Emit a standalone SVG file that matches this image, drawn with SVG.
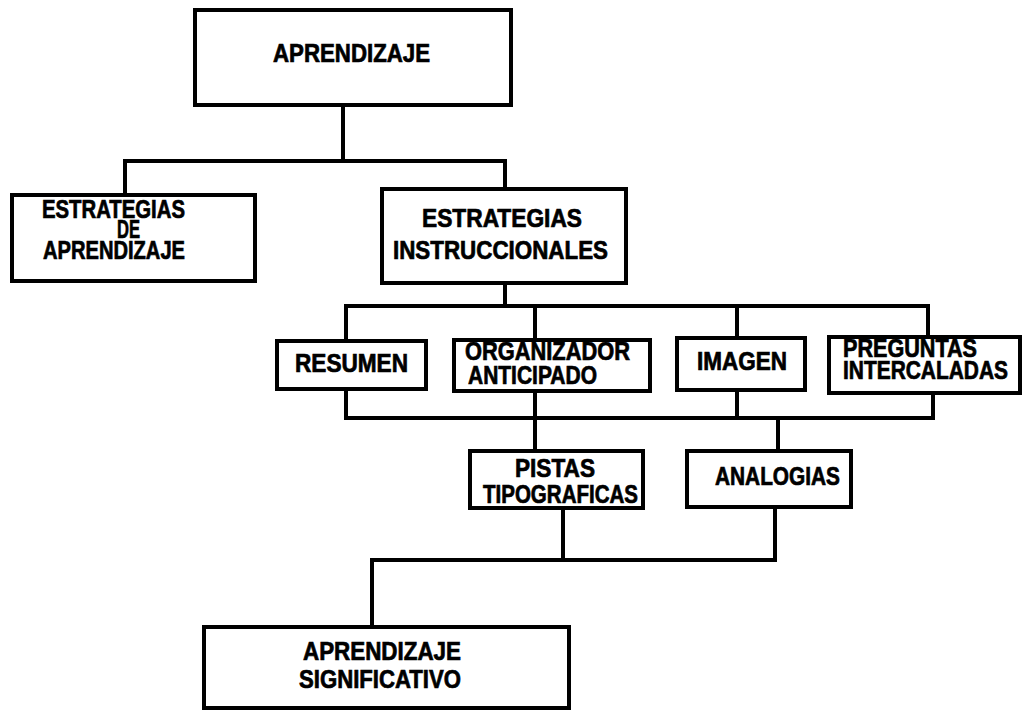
<svg xmlns="http://www.w3.org/2000/svg" width="1030" height="713" viewBox="0 0 1030 713">
<style>
.box{fill:#fff;stroke:#000;stroke-width:4}
.c{fill:none;stroke:#000;stroke-width:4;stroke-linejoin:miter;stroke-linecap:square}
text{font-family:"Liberation Sans Narrow","Liberation Sans",Arial,sans-serif;font-weight:bold;fill:#000;stroke:#000;stroke-width:0.7;font-size:25px}
</style>
<rect width="1030" height="713" fill="#fff"/>
<g id="connectors">
<path class="c" d="M343 107V161M125 193V161H505V187"/>
<path class="c" d="M505 285V306M346 339V306H928V335M535 306V338M737 306V336"/>
<path class="c" d="M346 391V418H933V395M535 393V418M737 392V418"/>
<path class="c" d="M535 418V449M778 418V449"/>
<path class="c" d="M563 510V560M372 625V560H775V509"/>
</g>
<g id="aprendizaje">
<rect class="box" x="195" y="10" width="316" height="95"/>
<text x="273" y="62" font-size="27" textLength="157" lengthAdjust="spacingAndGlyphs">APRENDIZAJE</text>
</g>
<g id="estrategias-aprendizaje">
<rect class="box" x="12" y="195" width="243" height="86"/>
<text x="42" y="218" font-size="21" textLength="143" lengthAdjust="spacingAndGlyphs">ESTRATEGIAS</text>
<text x="117" y="238" font-size="15" textLength="23" lengthAdjust="spacingAndGlyphs">DE</text>
<text x="43" y="259" font-size="19" textLength="142" lengthAdjust="spacingAndGlyphs">APRENDIZAJE</text>
</g>
<g id="estrategias-instruccionales">
<rect class="box" x="382" y="189" width="244" height="94"/>
<text x="422" y="227" font-size="25" textLength="160" lengthAdjust="spacingAndGlyphs">ESTRATEGIAS</text>
<text x="393" y="259" font-size="25" textLength="215" lengthAdjust="spacingAndGlyphs">INSTRUCCIONALES</text>
</g>
<g id="resumen">
<rect class="box" x="277" y="341" width="149" height="48"/>
<text x="295" y="372" font-size="24" textLength="113" lengthAdjust="spacingAndGlyphs">RESUMEN</text>
</g>
<g id="organizador">
<rect class="box" x="454" y="340" width="196" height="51"/>
<text x="465" y="360" font-size="21" textLength="165" lengthAdjust="spacingAndGlyphs">ORGANIZADOR</text>
<text x="468" y="384" font-size="20" textLength="129" lengthAdjust="spacingAndGlyphs">ANTICIPADO</text>
</g>
<g id="imagen">
<rect class="box" x="677" y="338" width="128" height="52"/>
<text x="697" y="370" font-size="25" textLength="90" lengthAdjust="spacingAndGlyphs">IMAGEN</text>
</g>
<g id="preguntas">
<rect class="box" x="829" y="337" width="191" height="56"/>
<text x="843" y="357" font-size="18" textLength="134" lengthAdjust="spacingAndGlyphs">PREGUNTAS</text>
<text x="843" y="379" font-size="22" textLength="165" lengthAdjust="spacingAndGlyphs">INTERCALADAS</text>
</g>
<g id="pistas">
<rect class="box" x="470" y="451" width="173" height="57"/>
<text x="515" y="477" font-size="24" textLength="80" lengthAdjust="spacingAndGlyphs">PISTAS</text>
<text x="483" y="503" font-size="25" textLength="155" lengthAdjust="spacingAndGlyphs">TIPOGRAFICAS</text>
</g>
<g id="analogias">
<rect class="box" x="687" y="451" width="164" height="56"/>
<text x="715" y="485" font-size="25" textLength="125" lengthAdjust="spacingAndGlyphs">ANALOGIAS</text>
</g>
<g id="aprendizaje-significativo">
<rect class="box" x="204" y="627" width="365" height="81"/>
<text x="303" y="660" font-size="25" textLength="158" lengthAdjust="spacingAndGlyphs">APRENDIZAJE</text>
<text x="299" y="688" font-size="26" textLength="162" lengthAdjust="spacingAndGlyphs">SIGNIFICATIVO</text>
</g>
</svg>
